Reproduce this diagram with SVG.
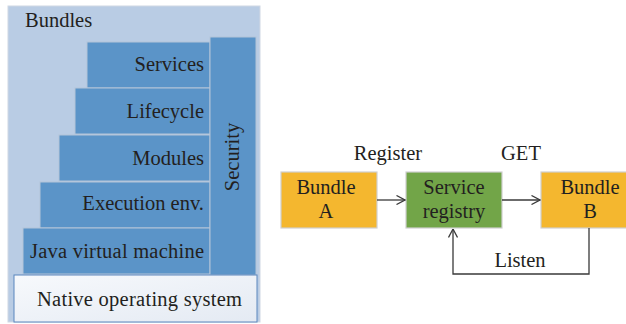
<svg xmlns="http://www.w3.org/2000/svg" width="626" height="324" viewBox="0 0 626 324">
  <style>
    .lbl { font-family: "Liberation Serif", "Times New Roman", serif; font-size: 20.5px; fill: #231f20; }
    .layer { fill: #5b94c8; stroke: #b4c4d8; stroke-width: 1; }
    .box { stroke: #cfcfcf; stroke-width: 1.2; }
    .conn { fill: none; stroke: #3a3a3a; stroke-width: 1.3; }
  </style>
  <defs>
    <linearGradient id="nativeFill" x1="0" y1="0" x2="1" y2="1">
      <stop offset="0" stop-color="#f7f9fc"/>
      <stop offset="1" stop-color="#e4eaf3"/>
    </linearGradient>
    <marker id="openArrow" viewBox="0 0 10 10" refX="9.5" refY="5" markerWidth="10" markerHeight="10" markerUnits="userSpaceOnUse" orient="auto">
      <path d="M1,0.5 L9.5,5 L1,9.5" fill="none" stroke="#3a3a3a" stroke-width="1.3"/>
    </marker>
  </defs>

  <!-- OSGi layer stack -->
  <g id="bundles">
    <rect x="8" y="6" width="252" height="316" fill="#b9cce4" stroke="#d0d8e4" stroke-width="1"/>
    <text class="lbl" x="25" y="27">Bundles</text>
  </g>
  <g id="services">
    <rect class="layer" x="87" y="42" width="123" height="46"/>
    <text class="lbl" x="204" y="71" text-anchor="end">Services</text>
  </g>
  <g id="lifecycle">
    <rect class="layer" x="75" y="88" width="135" height="46"/>
    <text class="lbl" x="204" y="118" text-anchor="end">Lifecycle</text>
  </g>
  <g id="modules">
    <rect class="layer" x="59" y="135" width="151" height="46"/>
    <text class="lbl" x="204" y="165" text-anchor="end">Modules</text>
  </g>
  <g id="execution-env">
    <rect class="layer" x="40" y="182" width="170" height="46"/>
    <text class="lbl" x="204" y="210" text-anchor="end">Execution env.</text>
  </g>
  <g id="jvm">
    <rect class="layer" x="23" y="228" width="187" height="46"/>
    <text class="lbl" x="204" y="258" text-anchor="end" textLength="174">Java virtual machine</text>
  </g>
  <g id="security">
    <rect class="layer" x="210" y="37" width="46" height="238"/>
    <text class="lbl" transform="translate(239,157) rotate(-90)" text-anchor="middle">Security</text>
  </g>
  <g id="native-os">
    <rect x="14" y="275" width="243" height="47" fill="url(#nativeFill)" stroke="#5a86bd" stroke-width="1"/>
    <text class="lbl" x="37" y="306" textLength="205">Native operating system</text>
  </g>

  <!-- Service registry interaction -->
  <g id="bundle-a">
    <rect class="box" x="281" y="172" width="96" height="56" fill="#f4b72f"/>
    <text class="lbl" x="326" y="194" text-anchor="middle">Bundle</text>
    <text class="lbl" x="326" y="218" text-anchor="middle">A</text>
  </g>
  <g id="service-registry">
    <rect class="box" x="406" y="172" width="96" height="56" fill="#72a548"/>
    <text class="lbl" x="454" y="194" text-anchor="middle">Service</text>
    <text class="lbl" x="454" y="218" text-anchor="middle">registry</text>
  </g>
  <g id="bundle-b">
    <rect class="box" x="541" y="172" width="96" height="56" fill="#f4b72f"/>
    <text class="lbl" x="590" y="194" text-anchor="middle">Bundle</text>
    <text class="lbl" x="590" y="218" text-anchor="middle">B</text>
  </g>

  <g id="connectors">
    <path class="conn" d="M377,200 L405,200" marker-end="url(#openArrow)"/>
    <path class="conn" d="M502,200 L540,200" marker-end="url(#openArrow)"/>
    <path class="conn" d="M589,228 L589,274 L453,274 L453,229" marker-end="url(#openArrow)"/>
    <text class="lbl" x="388" y="160" text-anchor="middle">Register</text>
    <text class="lbl" x="521" y="160" text-anchor="middle">GET</text>
    <text class="lbl" x="520" y="267" text-anchor="middle">Listen</text>
  </g>
</svg>
